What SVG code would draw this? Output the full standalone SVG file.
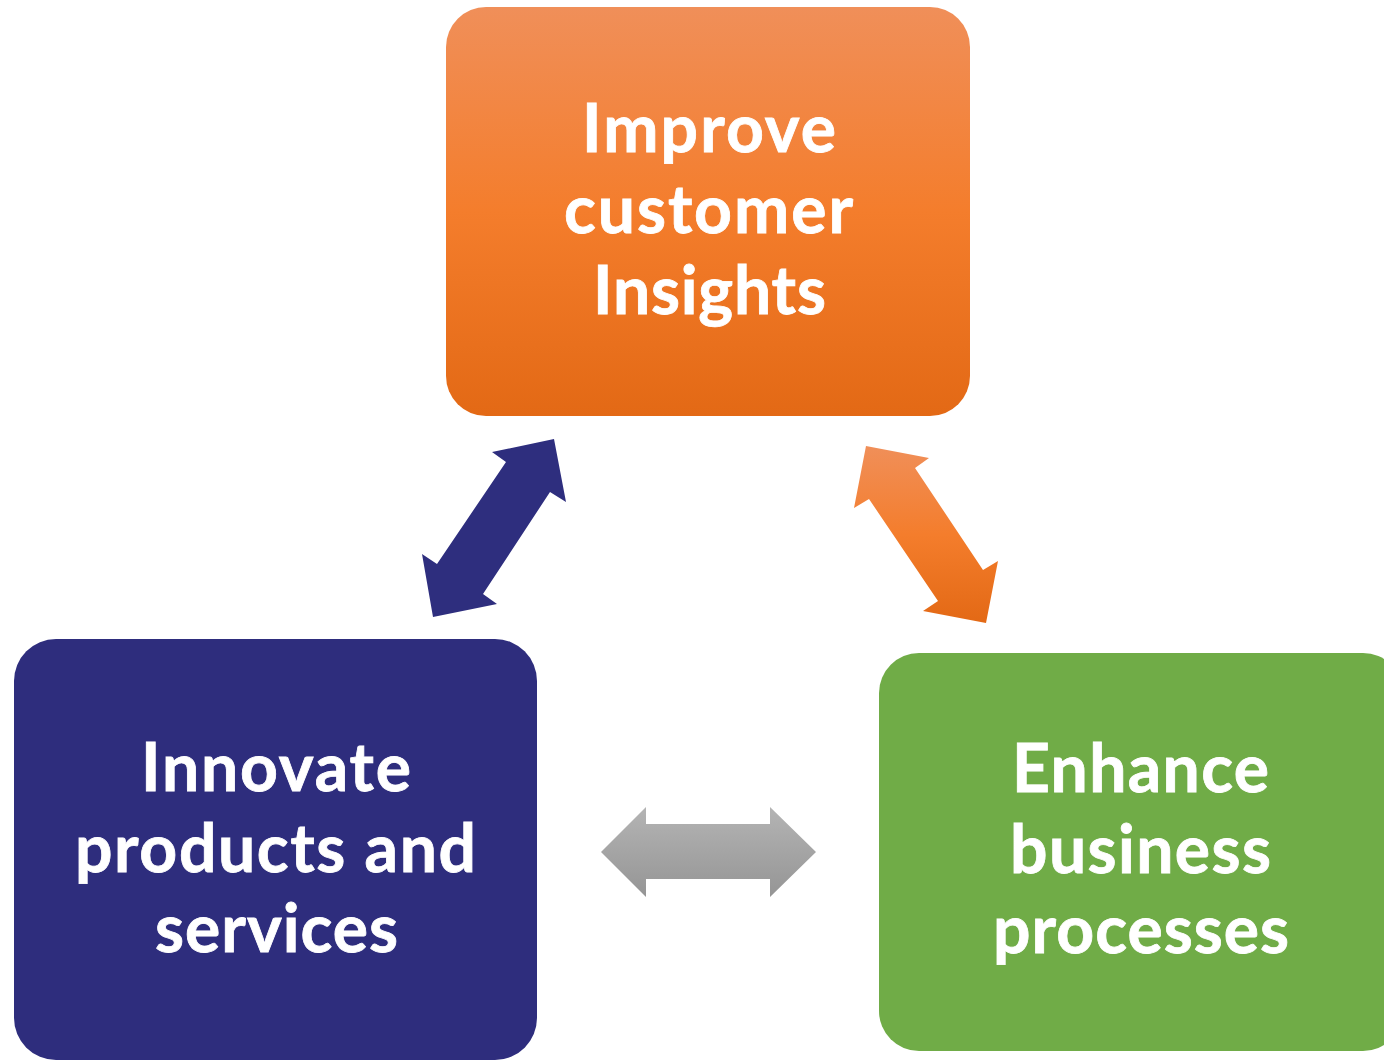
<svg xmlns="http://www.w3.org/2000/svg" width="1384" height="1061" viewBox="0 0 1384 1061">
<style>
.lbl{font-family:Lato,"Open Sans","Liberation Sans",sans-serif;font-weight:bold;font-size:66px;fill:#ffffff;stroke:#ffffff;stroke-width:0.8px}
</style>
<defs>
<linearGradient id="gOr" x1="0" y1="0" x2="0" y2="1">
<stop offset="0" stop-color="#f08f59"/>
<stop offset="0.5" stop-color="#f47d2c"/>
<stop offset="1" stop-color="#e36915"/>
</linearGradient>
<linearGradient id="gGr" x1="0" y1="0" x2="0" y2="1">
<stop offset="0" stop-color="#b4b4b4"/>
<stop offset="1" stop-color="#959595"/>
</linearGradient>
</defs>
<rect width="1384" height="1061" fill="#ffffff"/>
<g id="connectors">
<polygon id="arrow-blue" fill="#2e2e7e" points="554,439 566,502 550,492 483,594 497,604 433,617 422,554 437,564 506,462 492,452"/>
<polygon id="arrow-orange" fill="url(#gOr)" points="866,446 929,458 915,468 983,570 998,561 986,623 923,611 938,601 869,499 854,508"/>
<polygon id="arrow-gray" fill="url(#gGr)" points="601,852 646,807 646,824 770,824 770,807 816,852 770,897 770,879 646,879 646,897"/>
</g>
<g id="node-insights">
<rect x="446" y="7" width="524" height="409" rx="40" fill="url(#gOr)"/>
<text class="lbl" x="582" y="152" textLength="254" lengthAdjust="spacing">Improve</text>
<text class="lbl" x="564" y="233" textLength="289" lengthAdjust="spacing">customer</text>
<text class="lbl" x="593" y="314" textLength="233" lengthAdjust="spacing">Insights</text>
</g>
<g id="node-innovate">
<rect x="14" y="639" width="523" height="421" rx="42" fill="#2e2d7d"/>
<text class="lbl" x="141" y="791" textLength="270" lengthAdjust="spacing">Innovate</text>
<text class="lbl" x="75" y="872" textLength="401" lengthAdjust="spacing">products and</text>
<text class="lbl" x="155" y="952" textLength="243" lengthAdjust="spacing">services</text>
</g>
<g id="node-enhance">
<rect x="879" y="653" width="524" height="398" rx="40" fill="#70ac47"/>
<text class="lbl" x="1012" y="792" textLength="257" lengthAdjust="spacing">Enhance</text>
<text class="lbl" x="1010" y="873" textLength="261" lengthAdjust="spacing">business</text>
<text class="lbl" x="993" y="953" textLength="296" lengthAdjust="spacing">processes</text>
</g>
</svg>
